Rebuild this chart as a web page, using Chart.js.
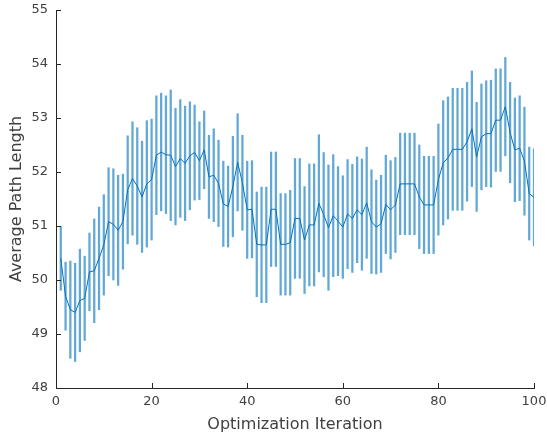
<!DOCTYPE html>
<html>
<head>
<meta charset="utf-8">
<script src="https://cdn.jsdelivr.net/npm/chart.js@4.4.1/dist/chart.umd.min.js"></script>
<style>
  html, body { margin: 0; padding: 0; background: #fff; }
  canvas { display: block; }
</style>
</head>
<body>
<canvas id="myChart" width="547" height="437"></canvas>
<script>
// iteration number on x
const iterations = [
  1, 2, 3, 4, 5, 6, 7, 8, 9, 10, 11, 12, 13, 14, 15, 16, 17, 18, 19, 20,
  21, 22, 23, 24, 25, 26, 27, 28, 29, 30, 31, 32, 33, 34, 35, 36, 37, 38, 39, 40,
  41, 42, 43, 44, 45, 46, 47, 48, 49, 50, 51, 52, 53, 54, 55, 56, 57, 58, 59, 60,
  61, 62, 63, 64, 65, 66, 67, 68, 69, 70, 71, 72, 73, 74, 75, 76, 77, 78, 79, 80,
  81, 82, 83, 84, 85, 86, 87, 88, 89, 90, 91, 92, 93, 94, 95, 96, 97, 98, 99, 100
];

// mean path length per iteration
const meanLength = [
  50.40, 49.70, 49.45, 49.40, 49.62, 49.66, 50.15, 50.17, 50.40, 50.65,
  51.08, 51.03, 50.92, 51.08, 51.67, 51.88, 51.74, 51.54, 51.78, 51.86,
  52.31, 52.37, 52.32, 52.31, 52.10, 52.25, 52.16, 52.30, 52.36, 52.21,
  52.41, 51.91, 51.94, 51.79, 51.41, 51.36, 51.73, 52.18, 51.80, 51.30,
  51.31, 50.66, 50.65, 50.65, 51.31, 51.31, 50.66, 50.66, 50.69, 51.14,
  51.14, 50.74, 51.02, 51.02, 51.42, 51.21, 50.97, 51.19, 51.09, 50.98,
  51.22, 51.14, 51.30, 51.21, 51.43, 51.08, 50.98, 51.04, 51.40, 51.30,
  51.39, 51.78, 51.78, 51.78, 51.78, 51.54, 51.39, 51.39, 51.39, 51.86,
  52.17, 52.26, 52.42, 52.42, 52.42, 52.56, 52.80, 52.28, 52.65, 52.71,
  52.71, 52.96, 52.96, 53.21, 52.73, 52.41, 52.44, 52.20, 51.60, 51.53
];

// half-length of the error bar
const errLength = [
  0.59, 0.63, 0.90, 0.91, 0.95, 0.78, 0.72, 0.96, 0.95, 0.93,
  1.00, 1.03, 1.02, 0.88, 1.00, 1.05, 1.08, 1.03, 1.17, 1.12,
  1.10, 1.09, 1.09, 1.21, 1.08, 1.09, 1.06, 1.00, 0.88, 0.72,
  0.72, 0.77, 0.86, 0.80, 0.79, 0.75, 0.93, 0.90, 0.88, 0.90,
  0.90, 0.97, 1.07, 1.07, 1.06, 1.06, 0.94, 0.94, 0.97, 1.11,
  1.11, 0.99, 1.13, 1.13, 1.27, 1.15, 1.16, 1.13, 1.01, 0.95,
  1.01, 1.00, 0.98, 1.03, 1.03, 0.96, 0.87, 0.90, 0.91, 0.91,
  0.88, 0.94, 0.94, 0.94, 0.94, 0.96, 0.90, 0.90, 0.90, 1.03,
  1.15, 1.13, 1.13, 1.13, 1.13, 1.10, 1.07, 1.01, 0.98, 0.98,
  0.99, 0.95, 0.95, 0.91, 0.93, 0.96, 0.97, 1.00, 0.86, 0.90
];

const xTitle = 'Optimization Iteration';
const yTitle = 'Average Path Length';

const lineColor = '#0072BD';
const axisColor = '#262626';
const textColor = '#404040';
const fontFamily = 'DejaVu Sans';

const linePoints = iterations.map((it, i) => ({ x: it, y: meanLength[i] }));
const errorRanges = iterations.map((it, i) => ({
  x: it,
  y: [meanLength[i] - errLength[i], meanLength[i] + errLength[i]]
}));

// matlab style: ticks pointing into the plot, y label at the far left
const matlabAxes = {
  id: 'matlabAxes',
  afterDraw(chart) {
    const ctx = chart.ctx;
    const xs = chart.scales.x;
    const ys = chart.scales.y;
    ctx.save();
    ctx.strokeStyle = axisColor;
    ctx.lineWidth = 1;
    ctx.beginPath();
    xs.ticks.forEach(t => {
      const px = Math.round(xs.getPixelForValue(t.value)) + 0.5;
      ctx.moveTo(px, ys.bottom);
      ctx.lineTo(px, ys.bottom - 5);
    });
    ys.ticks.forEach(t => {
      const py = Math.round(ys.getPixelForValue(t.value)) + 0.5;
      ctx.moveTo(xs.left, py);
      ctx.lineTo(xs.left + 5, py);
    });
    ctx.stroke();

    ctx.translate(17, (ys.top + ys.bottom) / 2);
    ctx.rotate(-Math.PI / 2);
    ctx.fillStyle = textColor;
    ctx.font = '16px "' + fontFamily + '"';
    ctx.textAlign = 'center';
    ctx.textBaseline = 'middle';
    ctx.fillText(yTitle, 0, 0);
    ctx.restore();
  }
};

new Chart(document.getElementById('myChart').getContext('2d'), {
  type: 'line',
  data: {
    datasets: [
      {
        type: 'line',
        data: linePoints,
        borderColor: lineColor,
        borderWidth: 1,
        pointRadius: 0,
        tension: 0,
        order: 0
      },
      {
        type: 'bar',
        data: errorRanges,
        backgroundColor: 'rgba(0, 114, 189, 0.62)',
        borderWidth: 0,
        barThickness: 1.6,
        grouped: false,
        order: 1
      }
    ]
  },
  options: {
    responsive: false,
    devicePixelRatio: 1,
    animation: false,
    layout: { padding: { top: 10, right: 13, left: 0, bottom: 0 } },
    plugins: {
      legend: { display: false },
      tooltip: { enabled: false }
    },
    scales: {
      x: {
        type: 'linear',
        min: 0,
        max: 100,
        offset: false,
        grid: { display: false, drawTicks: false },
        border: { color: axisColor, width: 1 },
        ticks: {
          stepSize: 20,
          padding: 6,
          color: textColor,
          font: { family: fontFamily, size: 13 }
        },
        title: {
          display: true,
          text: xTitle,
          color: textColor,
          font: { family: fontFamily, size: 16 },
          padding: { top: 0, bottom: 3 }
        },
        afterFit(s) {
          s.height = 49;
          s.paddingLeft = 0;
          s.paddingRight = 0;
        }
      },
      y: {
        min: 48,
        max: 55,
        grid: { display: false, drawTicks: false },
        border: { color: axisColor, width: 1 },
        ticks: {
          stepSize: 1,
          padding: 8,
          color: textColor,
          font: { family: fontFamily, size: 13 }
        },
        afterFit(s) {
          s.width = 56;
          s.paddingTop = 0;
          s.paddingBottom = 0;
        }
      }
    }
  },
  plugins: [matlabAxes]
});
</script>
</body>
</html>
